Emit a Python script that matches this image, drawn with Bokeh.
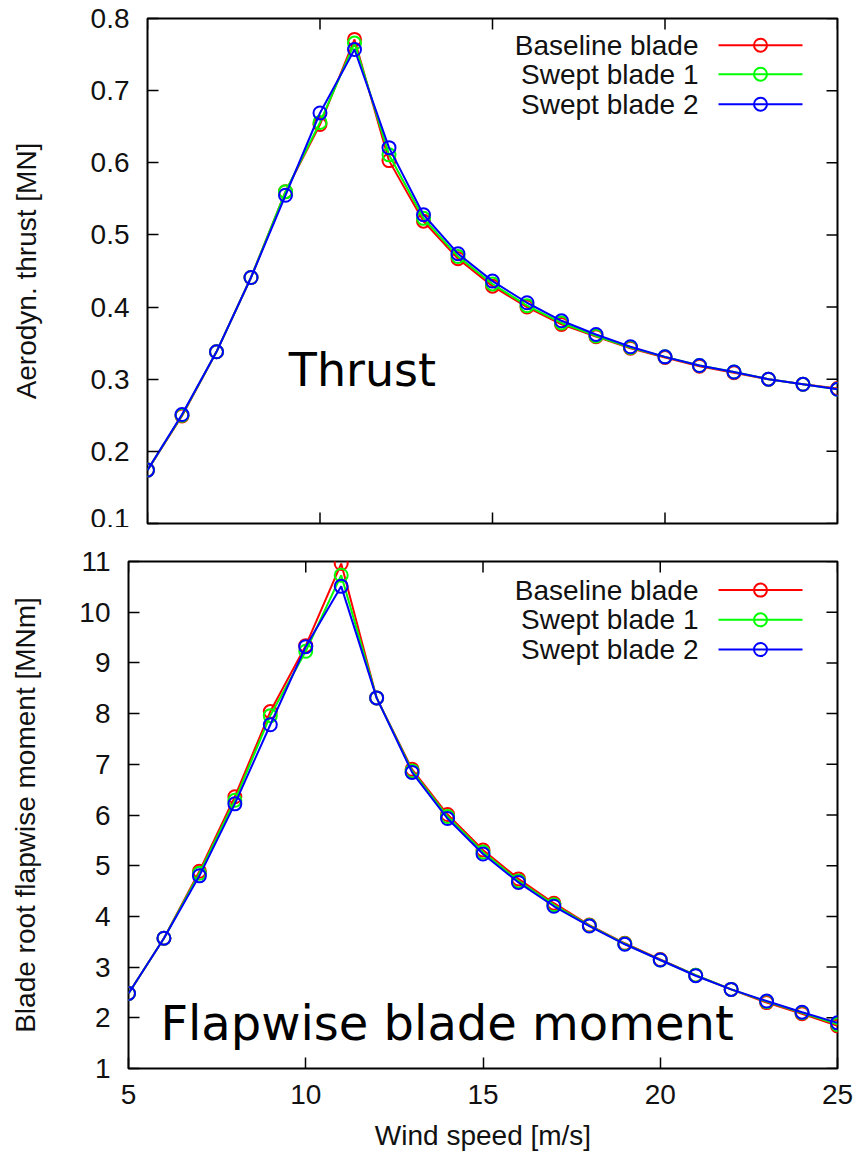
from bokeh.plotting import figure
from bokeh.models import Range1d, FixedTicker, Label
from bokeh.layouts import column
from bokeh.embed import file_html
from bokeh.resources import INLINE
from bokeh.core.properties import value

# ---------------- data ----------------
wind = list(range(5, 26))

thrust_baseline = [0.174, 0.249, 0.338, 0.441, 0.560, 0.653, 0.771, 0.603, 0.519, 0.467, 0.429,
                   0.400, 0.376, 0.359, 0.343, 0.330, 0.318, 0.309, 0.300, 0.293, 0.287]
thrust_swept1 = [0.174, 0.250, 0.338, 0.441, 0.560, 0.656, 0.766, 0.611, 0.523, 0.470, 0.432,
                 0.402, 0.378, 0.360, 0.344, 0.331, 0.319, 0.310, 0.300, 0.293, 0.286]
thrust_swept2 = [0.174, 0.251, 0.338, 0.441, 0.555, 0.669, 0.757, 0.621, 0.528, 0.474, 0.436,
                 0.406, 0.381, 0.362, 0.345, 0.331, 0.319, 0.310, 0.300, 0.293, 0.286]

moment_baseline = [2.48, 3.57, 4.89, 6.36, 8.04, 9.34, 10.96, 8.31, 6.90, 6.01, 5.31,
                   4.74, 4.26, 3.83, 3.47, 3.15, 2.84, 2.56, 2.30, 2.08, 1.84]
moment_swept1 = [2.48, 3.57, 4.85, 6.29, 7.96, 9.23, 10.73, 8.31, 6.87, 5.97, 5.27,
                 4.70, 4.23, 3.82, 3.46, 3.14, 2.84, 2.56, 2.32, 2.10, 1.87]
moment_swept2 = [2.48, 3.57, 4.80, 6.22, 7.78, 9.32, 10.51, 8.31, 6.84, 5.93, 5.23,
                 4.67, 4.20, 3.81, 3.45, 3.14, 2.83, 2.56, 2.33, 2.11, 1.90]

series_names = ["Baseline blade", "Swept blade 1", "Swept blade 2"]
series_colors = ["#ff0000", "#00ff00", "#0000ff"]

x_ticks = [5, 10, 15, 20, 25]
thrust_ticks = [0.1, 0.2, 0.3, 0.4, 0.5, 0.6, 0.7, 0.8]
moment_ticks = [1, 2, 3, 4, 5, 6, 7, 8, 9, 10, 11]

FONT = "Liberation Sans"
BIG_FONT = "DejaVu Sans"
TICK_LEN = 11


def style_axis(ax, ticks):
    ax.ticker = FixedTicker(ticks=ticks)
    ax.minor_tick_line_color = None
    ax.major_tick_in = TICK_LEN
    ax.major_tick_out = 0
    ax.major_tick_line_width = 1.5
    ax.major_tick_line_color = "#000000"
    ax.axis_line_color = None
    ax.major_label_text_font = FONT
    ax.major_label_text_font_size = "28px"
    ax.major_label_text_color = "#111111"
    ax.axis_label_text_font = FONT
    ax.axis_label_text_font_size = "28px"
    ax.axis_label_text_font_style = "normal"
    ax.axis_label_text_color = "#111111"


def make_fig(width, height, xr, yr, yticks, borders):
    p = figure(width=width, height=height, x_range=Range1d(*xr), y_range=Range1d(*yr),
               output_backend="svg", toolbar_location=None, frame_align=False,
               min_border_left=borders[0], min_border_right=borders[1],
               min_border_top=borders[2], min_border_bottom=borders[3])
    p.grid.visible = False
    p.outline_line_color = "#000000"
    p.outline_line_width = 2
    p.background_fill_color = "white"
    p.border_fill_color = "white"
    style_axis(p.xaxis[0], x_ticks)
    style_axis(p.yaxis[0], yticks)
    return p


def mirror_ticks(p, xr, yr, frame_w, frame_h, yticks, bottom):
    sx = (xr[1] - xr[0]) / frame_w
    sy = (yr[1] - yr[0]) / frame_h
    n = len(yticks)
    p.segment(x0=[xr[1]] * n, y0=yticks, x1=[xr[1] - TICK_LEN * sx] * n, y1=yticks,
              line_color="#000000", line_width=1.5)
    m = len(x_ticks)
    p.segment(x0=x_ticks, y0=[yr[1]] * m, x1=x_ticks, y1=[yr[1] - TICK_LEN * sy] * m,
              line_color="#000000", line_width=1.5)
    if bottom:
        p.segment(x0=x_ticks, y0=[yr[0]] * m, x1=x_ticks, y1=[yr[0] + TICK_LEN * sy] * m,
                  line_color="#000000", line_width=1.5)


def draw_series(p, ys):
    for y, name, color in zip(ys, series_names, series_colors):
        p.line(wind, y, line_color=color, line_width=2)
        p.scatter(wind, y, marker="circle", size=13, fill_color=None,
                  line_color=color, line_width=2)


def draw_key(p, xr, yr, frame_w, frame_h, rows):
    sx = (xr[1] - xr[0]) / frame_w
    sy = (yr[1] - yr[0]) / frame_h
    for off, name, color in zip(rows, series_names, series_colors):
        yy = yr[1] - off * sy
        p.text(x=[xr[1] - 139 * sx], y=[yy], text=[name], text_align="right",
               text_baseline="middle", text_font=value(FONT), text_font_size="28px",
               text_color="#111111")
        p.line([xr[1] - 119 * sx, xr[1] - 35 * sx], [yy, yy], line_color=color, line_width=2)
        p.scatter([xr[1] - 77 * sx], [yy], marker="circle", size=13, fill_color=None,
                  line_color=color, line_width=2)


# ---------------- top panel ----------------
top_xr = (5, 25)
top_yr = (0.1, 0.8)
p1 = make_fig(858, 527, top_xr, top_yr, thrust_ticks, (147, 21, 18, 4))
p1.xaxis.visible = False
p1.yaxis[0].axis_label = "Aerodyn. thrust [MN]"
p1.yaxis[0].major_label_standoff = 18
p1.yaxis[0].axis_label_standoff = 46
mirror_ticks(p1, top_xr, top_yr, 690, 505, thrust_ticks, True)
draw_series(p1, [thrust_baseline, thrust_swept1, thrust_swept2])
draw_key(p1, top_xr, top_yr, 690, 505, [26.7, 55.7, 85.7])
p1.add_layout(Label(x=9.095, y=0.3125, text="Thrust", text_font=BIG_FONT,
                    text_font_size="46px", text_color="#000000",
                    text_baseline="middle", text_align="left"))

# ---------------- bottom panel ----------------
bot_xr = (5, 25)
bot_yr = (1, 11)
p2 = make_fig(858, 632, bot_xr, bot_yr, moment_ticks, (128, 21, 34, 91))
p2.yaxis[0].axis_label = "Blade root flapwise moment [MNm]"
p2.yaxis[0].major_label_standoff = 18
p2.yaxis[0].axis_label_standoff = 35
p2.xaxis[0].axis_label = "Wind speed [m/s]"
p2.xaxis[0].major_label_standoff = 16
p2.xaxis[0].axis_label_standoff = 13
mirror_ticks(p2, bot_xr, bot_yr, 709, 507, moment_ticks, False)
draw_series(p2, [moment_baseline, moment_swept1, moment_swept2])
draw_key(p2, bot_xr, bot_yr, 709, 507, [28.6, 58.3, 88])
p2.add_layout(Label(x=5.9, y=1.9, text="Flapwise blade moment", text_font=BIG_FONT,
                    text_font_size="48px", text_color="#000000",
                    text_baseline="middle", text_align="left"))

layout = column(p1, p2, spacing=0)
open("out.html", "w").write(file_html(layout, INLINE))
